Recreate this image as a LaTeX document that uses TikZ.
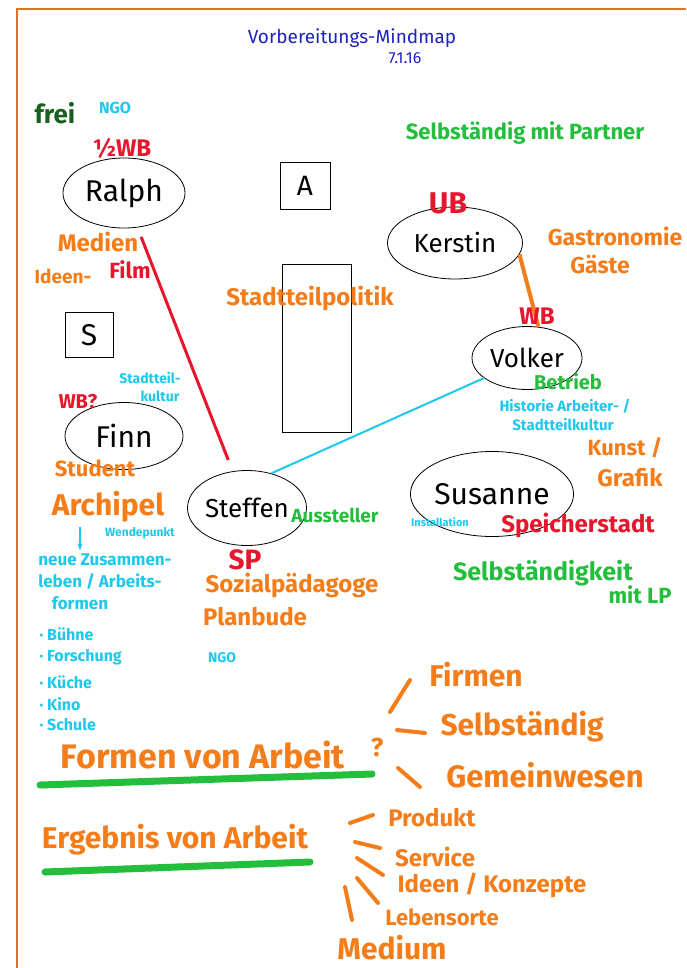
\documentclass[tikz,border=0pt]{standalone}
\usepackage{fontspec}
\setmainfont{Fira Sans}
\usetikzlibrary{shapes.geometric,arrows.meta,positioning}
\definecolor{mkorange}{RGB}{245,125,25}
\definecolor{mkred}{RGB}{232,22,45}
\definecolor{mkgreen}{RGB}{35,190,60}
\definecolor{mkcyan}{RGB}{30,200,235}
\definecolor{mkblue}{RGB}{30,35,190}
\definecolor{mkdark}{RGB}{25,95,30}
\definecolor{frameorange}{RGB}{228,112,35}
\newcommand\fs[1]{\fontsize{#1}{#1}\selectfont}

\begin{document}
\begin{tikzpicture}[x=1pt,y=-1pt,
    person/.style={draw,ellipse,line width=0.8pt,inner sep=0pt,font=\fs{30}},
    frame/.style={draw,line width=0.8pt,inner sep=0pt},
    orng/.style={text=mkorange,font=\bfseries\fs{#1}},
    rd/.style={text=mkred,font=\bfseries\fs{#1}},
    grn/.style={text=mkgreen,font=\bfseries\fs{#1}},
    cyn/.style={text=mkcyan,font=\bfseries\fs{#1}},
    blu/.style={text=mkblue,font=\fs{#1}},
    marker/.style={mkorange,line width=4pt,line cap=round},
    bar/.style={mkgreen,line width=7pt,line cap=round}]
  \fill[white] (0,0) rectangle (686,968);
  \useasboundingbox (0,0) rectangle (686,968);
  \draw[frameorange,line width=2.5pt] (17,968) -- (17,9) -- (686,9);

  \node[blu=19] (title) at (352,38) {Vorbereitungs-Mindmap};
  \node[blu=16] (date) at (405,58) {7.1.16};

  \node[person,minimum width=122,minimum height=70] (ralph) at (124,193) {Ralph};
  \node[person,minimum width=135,minimum height=72,font=\fs{26}] (kerstin) at (455,243) {Kerstin};
  \node[person,minimum width=110,minimum height=63,font=\fs{26}] (volker) at (527,358) {Volker};
  \node[person,minimum width=118,minimum height=67] (finn) at (124,436) {Finn};
  \node[person,minimum width=119,minimum height=75,font=\fs{26}] (steffen) at (247,508) {Steffen};
  \node[person,minimum width=157,minimum height=85] (susanne) at (492,494) {Susanne};

  \node[frame,minimum width=50,minimum height=47,font=\fs{28}] (boxa) at (305,186) {A};
  \node[frame,minimum width=48,minimum height=45,font=\fs{30}] (boxs) at (89,335) {S};
  \node[frame,minimum width=69,minimum height=168] (block) at (317,348) {};

  \draw[mkred,line width=3pt,shorten <=10pt,shorten >=12pt] (ralph) -- (steffen);
  \draw[mkcyan,line width=2pt] (steffen.55) -- (volker.205);
  \draw[mkorange,line width=4pt] (kerstin.-10) -- (volker.70);

  \node[text=mkdark,font=\bfseries\fs{26}] (frei) at (55,113) {frei};
  \node[cyn=16] (ngo) at (115,108) {NGO};
  \node[rd=24] (halbwb) at (122,148) {½WB};
  \node[orng=24] (medien) at (98,242) {Medien};
  \node[orng=19] (ideen) at (63,276) {Ideen-};
  \node[rd=22] (film) at (130,270) {Film};

  \node[grn=22] (partner) at (525,133) {Selbständig mit Partner};
  \node[rd=30] (ub) at (448,203) {UB};
  \node[orng=23] (gastro) at (615,236) {Gastronomie};
  \node[orng=23] (gaeste) at (600,265) {Gäste};

  \node[orng=24] (politik) at (310,298) {Stadtteilpolitik};

  \node[cyn=14] (kultur1) at (150,378) {Stadtteil-};
  \node[cyn=14] (kultur2) at (160,396) {kultur};
  \node[rd=20] (wbq) at (78,402) {WB?};
  \node[orng=22] (student) at (95,468) {Student};
  \node[orng=30] (archipel) at (108,507) {Archipel};
  \node[cyn=12] (wende) at (140,533) {Wendepunkt};
  \coordinate (pfeil) at (80,527);
  \node[cyn=17] (neue1) at (105,560) {neue Zusammen-};
  \node[cyn=17] (neue2) at (100,582) {leben / Arbeits-};
  \node[cyn=17] (neue3) at (80,603) {formen};
  \draw[mkcyan,line width=2pt,-{Stealth[length=7pt]}] (pfeil) -- (neue1.north -| pfeil);
  \foreach \y/\t [count=\i] in {634/Bühne,657/Forschung,682/Küche,704/Kino,725/Schule}
    \node[cyn=16,anchor=west] (punkt\i) at (36,\y) {· \t};

  \node[grn=19] (aussteller) at (335,515) {Aussteller};
  \node[rd=28] (sp) at (245,560) {SP};
  \node[orng=24] (sozial) at (292,585) {Sozialpädagoge};
  \node[orng=24] (planbude) at (255,617) {Planbude};
  \node[cyn=14] (ngo2) at (222,658) {NGO};

  \node[rd=24] (wb) at (537,316) {WB};
  \node[grn=20] (betrieb) at (568,382) {Betrieb};
  \node[cyn=15] (historie) at (565,406) {Historie Arbeiter- /};
  \node[cyn=15] (stkultur) at (563,425) {Stadtteilkultur};
  \node[orng=22] (kunst) at (625,448) {Kunst /};
  \node[orng=24] (grafik) at (630,478) {Grafik};

  \node[cyn=11] (install) at (440,522) {Installation};
  \node[rd=24] (speicher) at (578,525) {Speicherstadt};
  \node[grn=25] (selbst) at (543,573) {Selbständigkeit};
  \node[grn=22] (mitlp) at (640,595) {mit LP};

  \node[orng=34] (formen) at (203,755) {Formen von Arbeit};
  \node[orng=26] (qmark) at (377,747) {?};
  \draw[bar] (40,785) -- (372,774);
  \node[orng=30] (firmen) at (476,675) {Firmen};
  \node[orng=30] (selbst2) at (522,727) {Selbständig};
  \node[orng=31] (gemein) at (545,775) {Gemeinwesen};
  \foreach \a/\b in {{390,712}/{410,680},{397,730}/{425,733},{398,768}/{420,787}}
    \draw[marker] (\a) -- (\b);

  \node[orng=30] (ergebnis) at (175,840) {Ergebnis von Arbeit};
  \draw[bar] (45,872) -- (310,862);
  \node[orng=24] (produkt) at (432,818) {Produkt};
  \node[orng=24] (service) at (435,857) {Service};
  \node[orng=24] (konzepte) at (492,885) {Ideen / Konzepte};
  \node[orng=22] (lebensorte) at (442,917) {Lebensorte};
  \node[orng=30] (medium) at (392,948) {Medium};
  \foreach \a/\b in {{350,823}/{373,815},{355,842}/{380,848},{357,858}/{383,875},{357,878}/{378,903},{345,887}/{352,920}}
    \draw[marker] (\a) -- (\b);
\end{tikzpicture}
\end{document}
